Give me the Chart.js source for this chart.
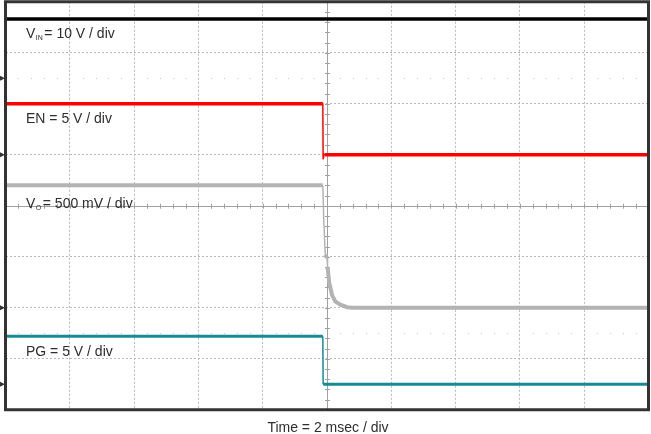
<!DOCTYPE html>
<html><head><meta charset="utf-8">
<script src="https://cdn.jsdelivr.net/npm/chart.js@4.4.0/dist/chart.umd.min.js"></script>
<style>html,body{margin:0;padding:0;background:#fff}</style>
</head><body>
<canvas id="c" width="651" height="434"></canvas>
<script>
// ---- data (time in ms, trigger at centre; voltages in V) ----
const vinTime  = [-10, 10];
const vinVolts = [11.6, 11.6];

const enTime  = [-10, -0.13, -0.12, -0.09, -0.06, 10];
const enVolts = [5.0, 5.0, -0.45, 0.05, 0.0, 0.0];

const voTime  = [-10, -0.13, -0.10, -0.054, 0, 0.017, 0.07, 0.155, 0.257, 0.413, 0.63, 0.79, 10];
const voVolts = [1.2, 1.2, 0.86, 0.52, 0.49, 0.40, 0.245, 0.127, 0.062, 0.03, 0.005, 0, 0];

const pgTime  = [-10, -0.13, -0.12, 10];
const pgVolts = [4.7, 4.7, 0.0, 0.0];

// channel settings: volts per division and ground position (divisions from bottom)
const channelNames   = ['VIN', 'EN', 'VO', 'PG'];
const voltsPerDiv    = [10, 5, 0.5, 5];
const groundDiv      = [6.5, 5.0, 2.0, 0.5];
const channelColors  = ['#000000', '#ff0000', '#b3b3b3', '#168b97'];
const channelWidths  = [3.5, 3.5, 4, 3];

const labelMain  = ['V', 'EN = 5 V / div', 'V', 'PG = 5 V / div'];
const labelSub   = ['IN', '', 'O', ''];
const labelRest  = ['= 10 V / div', '', '= 500 mV / div', ''];
const labelLevel = [7.28, 5.62, 3.96, 1.05];   // baseline, in divisions
const xTitle = 'Time = 2 msec / div';

const times = [vinTime, enTime, voTime, pgTime];
const volts = [vinVolts, enVolts, voVolts, pgVolts];

const datasets = channelNames.map((n, i) => ({
  label: n,
  data: times[i].map((t, k) => ({x: t, y: groundDiv[i] + volts[i][k] / voltsPerDiv[i]})),
  borderColor: channelColors[i],
  borderWidth: channelWidths[i],
  pointRadius: 0,
  tension: 0,
  segment: {
    borderWidth: ctx => Math.abs(ctx.p1.x - ctx.p0.x) < 1.5 ? 1.5 : channelWidths[i]
  }
}));

const FONT = '"Liberation Sans", Arial, sans-serif';
const TEXT = '#2e2e2e';

const scopePlugin = {
  id: 'scope',
  beforeDatasetsDraw(chart) {
    const {ctx, chartArea: a, scales: {x, y}} = chart;
    ctx.save();
    const cx = x.getPixelForValue(0), cy = y.getPixelForValue(4);
    // centre axes
    ctx.strokeStyle = '#a0a0a0'; ctx.lineWidth = 1;
    ctx.beginPath();
    ctx.moveTo(a.left, Math.round(cy) + 0.5); ctx.lineTo(a.right, Math.round(cy) + 0.5);
    ctx.moveTo(Math.round(cx) + 0.5, a.top); ctx.lineTo(Math.round(cx) + 0.5, a.bottom);
    // minor ticks
    for (let k = -25; k <= 25; k++) {
      const px = Math.round(x.getPixelForValue(k * 0.4)) + 0.5;
      ctx.moveTo(px, cy - 2); ctx.lineTo(px, cy + 3);
    }
    for (let k = 0; k <= 40; k++) {
      const py = Math.round(y.getPixelForValue(k * 0.2)) + 0.5;
      ctx.moveTo(cx - 2, py); ctx.lineTo(cx + 3, py);
    }
    ctx.stroke();
    // dotted rows
    ctx.fillStyle = '#c4c4c4';
    for (const row of [6.5, 1.5]) {
      const py = Math.round(y.getPixelForValue(row));
      for (let k = -25; k <= 25; k++) {
        if (k % 5 === 0) continue;
        const px = Math.round(x.getPixelForValue(k * 0.4));
        ctx.fillRect(px, py, 1, 1);
      }
    }
    ctx.restore();
  },
  afterDatasetsDraw(chart) {
    const {ctx, chartArea: a, scales: {x, y}} = chart;
    ctx.save();
    // frame
    ctx.strokeStyle = '#333333'; ctx.lineWidth = 3;
    ctx.strokeRect(a.left, a.top, a.right - a.left, a.bottom - a.top);
    // ground markers
    ctx.fillStyle = '#333333';
    groundDiv.forEach(g => {
      const py = y.getPixelForValue(g);
      ctx.beginPath();
      ctx.moveTo(0, py - 2.5); ctx.lineTo(a.left - 0.5, py); ctx.lineTo(0, py + 2.5);
      ctx.closePath(); ctx.fill();
    });
    // channel labels
    ctx.fillStyle = TEXT;
    ctx.textBaseline = 'alphabetic';
    ctx.textAlign = 'left';
    const lx = a.left + 20.5;
    labelMain.forEach((m, i) => {
      const by = y.getPixelForValue(labelLevel[i]);
      ctx.font = '14px ' + FONT;
      ctx.fillText(m, lx, by);
      let xp = lx + ctx.measureText(m).width;
      if (labelSub[i]) {
        ctx.font = '7px ' + FONT;
        ctx.fillText(labelSub[i], xp + 0.5, by + 2);
        xp += 0.5 + ctx.measureText(labelSub[i]).width + 1.5;
        ctx.font = '14px ' + FONT;
        ctx.fillText(labelRest[i], xp, by);
      }
    });
    // time label
    ctx.font = '14px ' + FONT;
    ctx.textAlign = 'center';
    ctx.fillText(xTitle, (a.left + a.right) / 2 + 1, 432);
    ctx.restore();
  }
};

new Chart(document.getElementById('c'), {
  type: 'line',
  data: {datasets},
  options: {
    responsive: false,
    animation: false,
    parsing: true,
    layout: {padding: {left: 5.5, top: 1.75, right: 2.5, bottom: 24.25}},
    plugins: {legend: {display: false}, tooltip: {enabled: false}},
    scales: {
      x: {
        type: 'linear', min: -10, max: 10,
        ticks: {display: false, stepSize: 2},
        grid: {drawTicks: false, lineWidth: 1,
               color: c => (c.tick && c.tick.value === 0) ? 'rgba(0,0,0,0)' : '#b8b8b8'},
        border: {display: false, dash: [2, 2]}
      },
      y: {
        type: 'linear', min: 0, max: 8,
        ticks: {display: false, stepSize: 1},
        grid: {drawTicks: false, lineWidth: 1,
               color: c => (c.tick && c.tick.value === 4) ? 'rgba(0,0,0,0)' : '#b8b8b8'},
        border: {display: false, dash: [2, 2]}
      }
    }
  },
  plugins: [scopePlugin]
});
</script>
</body></html>
